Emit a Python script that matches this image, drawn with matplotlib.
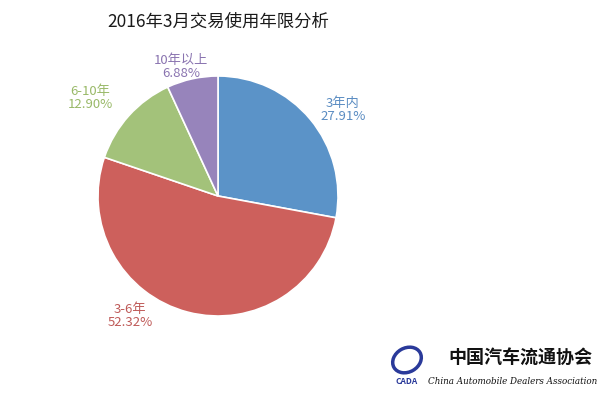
import matplotlib.pyplot as plt
from matplotlib.patches import Ellipse

plt.rcParams['font.family'] = ['Noto Sans CJK SC', 'DejaVu Sans']

title = "2016年3月交易使用年限分析"
categories = ["3年内", "3-6年", "6-10年", "10年以上"]
shares = [27.91, 52.32, 12.90, 6.88]
wedge_colors = ["#5b93c8", "#cd605c", "#a3c27a", "#9784bb"]
label_colors = ["#5a8cc2", "#bf5a58", "#99b968", "#8a74b0"]
# label anchor positions in pixels (x, y from top)
label_pos = [(343, 110), (130, 316), (90, 98), (181, 67)]

fig = plt.figure(figsize=(6, 3.98), dpi=100)
ax = fig.add_axes([0, 0, 1, 1])

ax.pie(shares, colors=wedge_colors, startangle=90, counterclock=False,
       center=(218, 398 - 196), radius=120,
       wedgeprops=dict(edgecolor='white', linewidth=1.2), frame=True)
ax.set_xlim(0, 600)
ax.set_ylim(0, 398)
ax.set_aspect('equal')
ax.axis('off')

for cat, val, c, (x, y) in zip(categories, shares, label_colors, label_pos):
    ax.text(x, 398 - y, f"{cat}\n{val:.2f}%", color=c, fontsize=9.5,
            ha='center', va='center', linespacing=1.05)

ax.text(218, 398 - 22, title, fontsize=12.5, ha='center', va='center', color='#1a1a1a')

# logo area
ax.add_patch(Ellipse((407, 398 - 360), 30, 24, angle=30, fill=False,
                     edgecolor='#2a3a9a', linewidth=2.5))
ax.text(407, 398 - 382, "CADA", fontsize=6, fontweight='bold', style='italic',
        color='#2a3a9a', ha='center', va='center')
ax.text(520, 398 - 357, "中国汽车流通协会", fontsize=13, fontweight='bold',
        color='#111111', ha='center', va='center')
ax.text(428, 398 - 381, "China Automobile Dealers Association", fontsize=6.3,
        style='italic', color='#111111', ha='left', va='center',
        family='DejaVu Serif')

fig.savefig("out.png", dpi=100)
